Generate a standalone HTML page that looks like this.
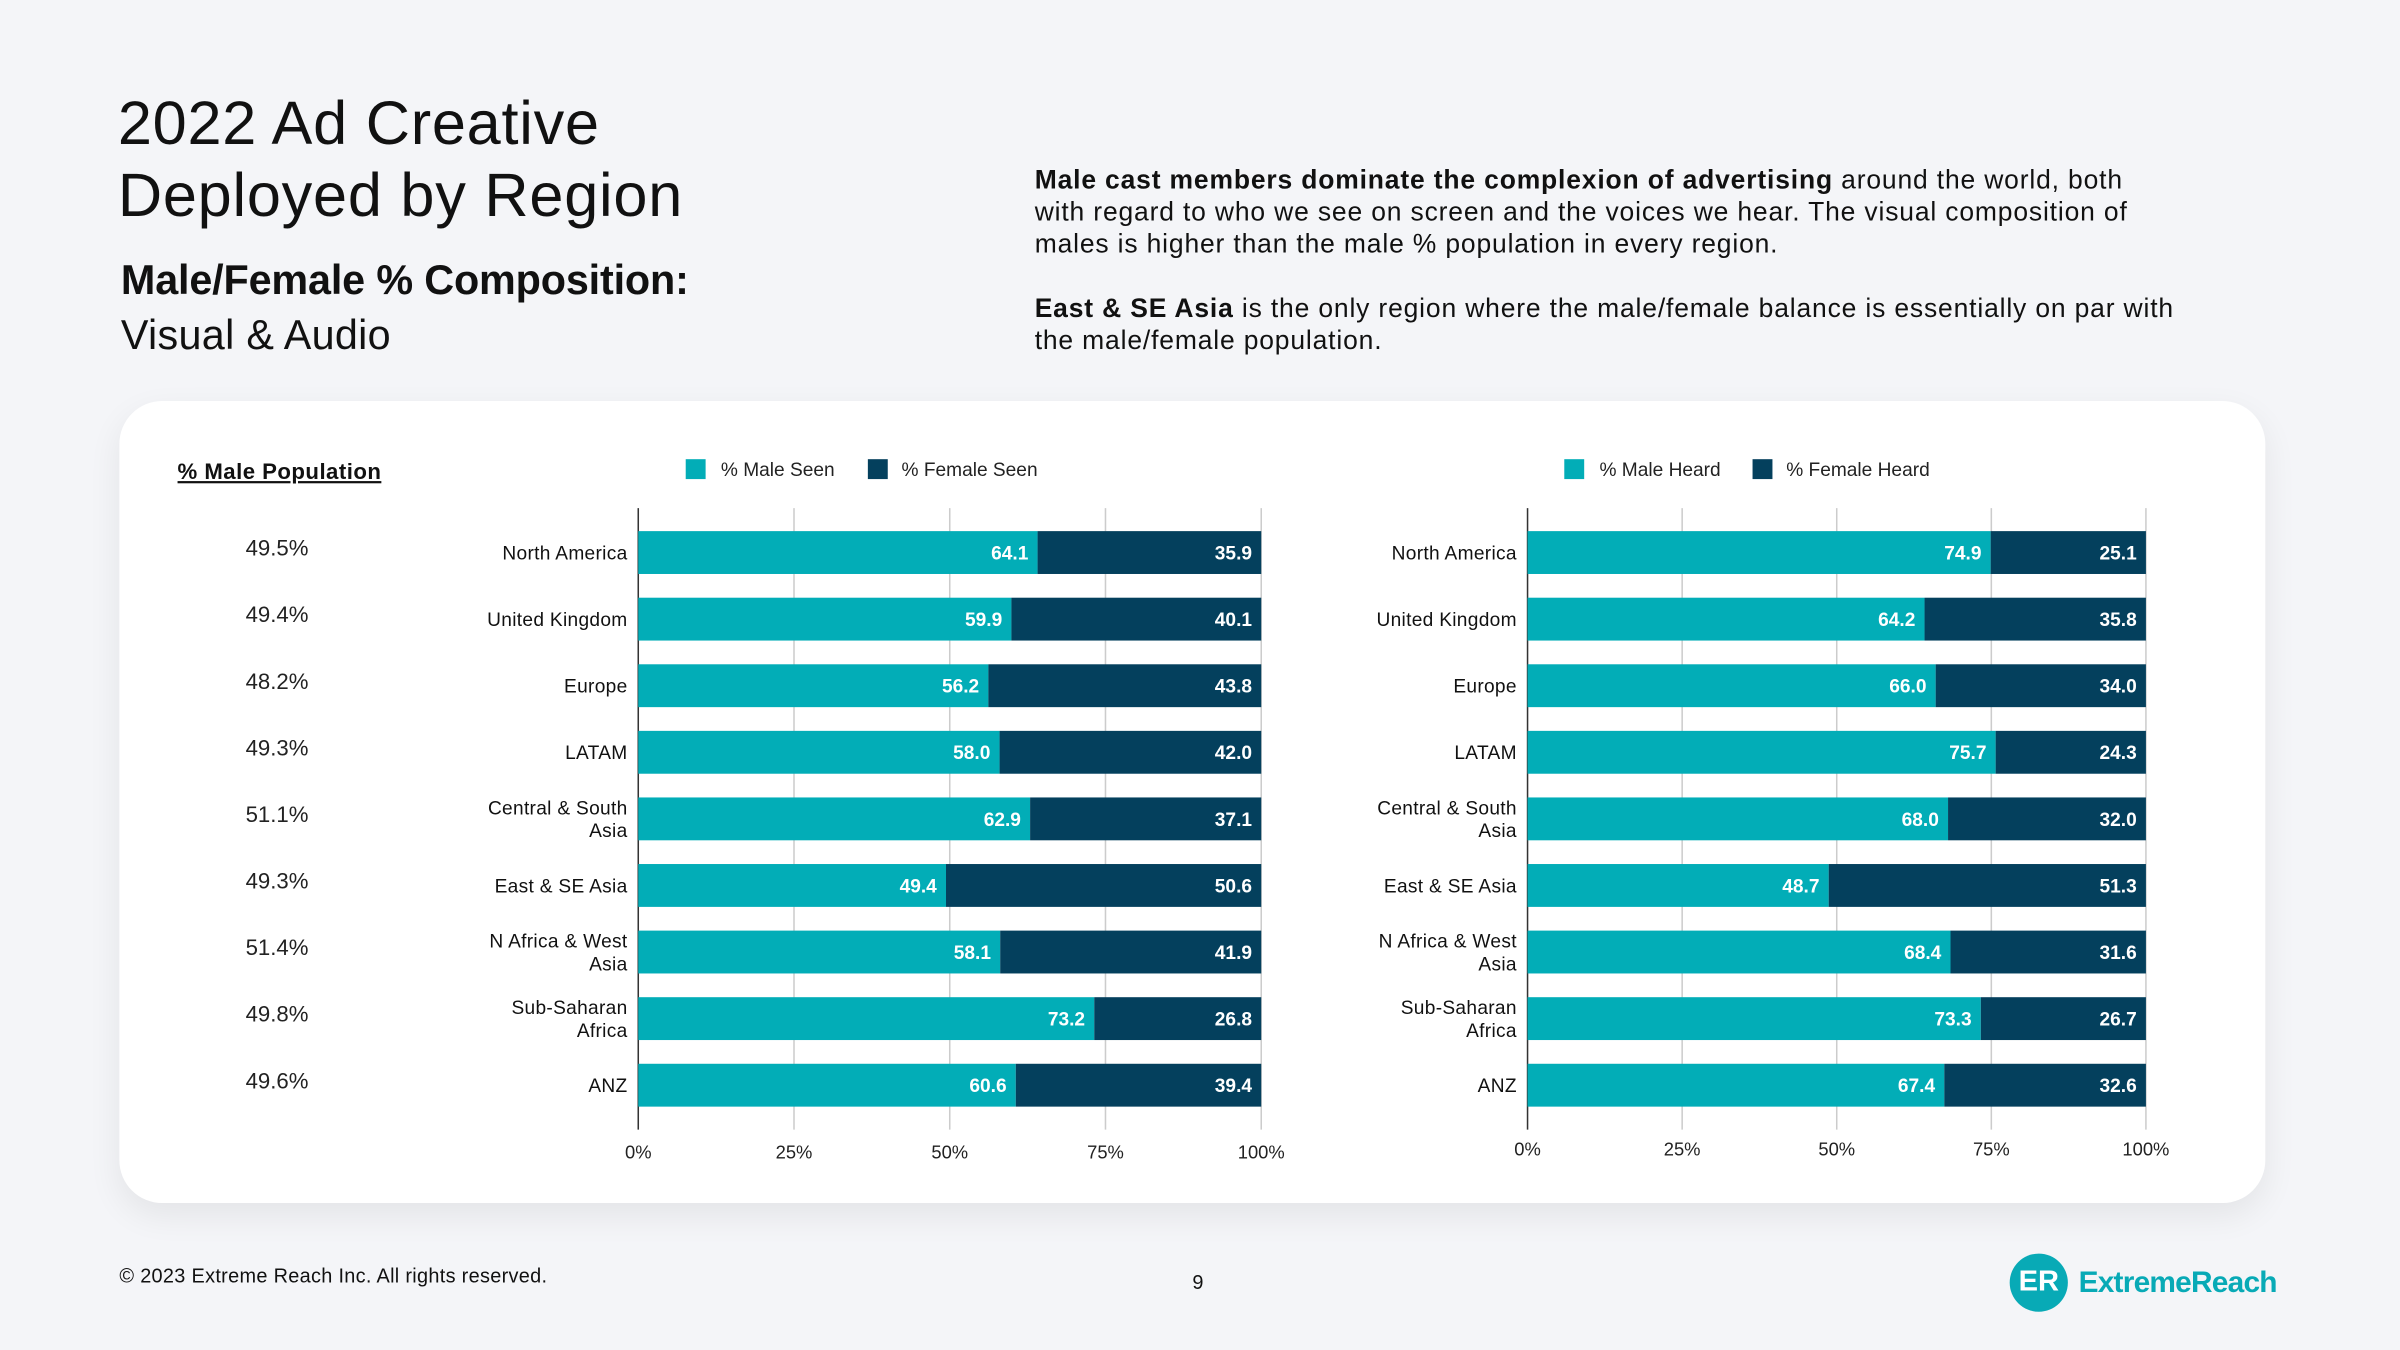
<!DOCTYPE html>
<html><head><meta charset="utf-8"><style>
html,body{margin:0;padding:0;width:2400px;height:1350px;overflow:hidden;background:#f4f5f8;}
#wrap{position:absolute;left:0;top:0;width:1568px;height:882px;transform:scale(1.530612);transform-origin:0 0;font-family:"Liberation Sans",sans-serif;color:#111;}
.abs{position:absolute;margin:0;}
#card{position:absolute;left:78px;top:262px;width:1402px;height:524px;background:#fff;border-radius:28px;box-shadow:0 8px 22px rgba(0,0,0,0.07);}
svg text{font-family:"Liberation Sans",sans-serif;}
</style></head><body>
<div id="wrap">
<h1 class="abs" style="left:77px;top:58px;font-size:40px;font-weight:400;line-height:47px;letter-spacing:0.5px;">2022 Ad Creative<br>Deployed by Region</h1>
<div class="abs" style="left:79px;top:168px;font-size:27px;font-weight:700;letter-spacing:-0.1px;">Male/Female % Composition:</div>
<div class="abs" style="left:79px;top:204px;font-size:27px;letter-spacing:0.2px;">Visual &amp; Audio</div>
<div class="abs" style="left:676px;top:107px;width:745px;font-size:17.3px;letter-spacing:0.55px;line-height:21px;color:#111;">
<p style="margin:0 0 21px 0;"><b>Male cast members dominate the complexion of advertising</b> around the world, both with regard to who we see on screen and the voices we hear. The visual composition of males is higher than the male % population in every region.</p>
<p style="margin:0;"><b>East &amp; SE Asia</b> is the only region where the male/female balance is essentially on par with the male/female population.</p>
</div>
<div id="card"></div>
<svg id="chart" class="abs" style="left:0;top:0" width="1568" height="882"></svg>
<div class="abs" style="left:78px;top:826px;font-size:13px;letter-spacing:0.2px;">© 2023 Extreme Reach Inc. All rights reserved.</div>
<div class="abs" style="left:779px;top:830px;font-size:13px;">9</div>
<div class="abs" style="left:1313px;top:819px;width:38px;height:38px;border-radius:50%;background:#08aab6;color:#fff;font-weight:700;font-size:19px;line-height:38px;text-align:center;">ER</div>
<div class="abs" style="left:1358px;top:827px;font-size:19.5px;font-weight:700;color:#08aab6;letter-spacing:-0.5px;">ExtremeReach</div>
</div>
<script>
const categories=["North America","United Kingdom","Europe","LATAM","Central & South|Asia","East & SE Asia","N Africa & West|Asia","Sub-Saharan|Africa","ANZ"];
const malePop=["49.5%","49.4%","48.2%","49.3%","51.1%","49.3%","51.4%","49.8%","49.6%"];
const maleSeen=[64.1,59.9,56.2,58.0,62.9,49.4,58.1,73.2,60.6];
const femaleSeen=[35.9,40.1,43.8,42.0,37.1,50.6,41.9,26.8,39.4];
const maleHeard=[74.9,64.2,66.0,75.7,68.0,48.7,68.4,73.3,67.4];
const femaleHeard=[25.1,35.8,34.0,24.3,32.0,51.3,31.6,26.7,32.6];
const ticks=[0,25,50,75,100];
const TEAL="#02adb7",NAVY="#04405d";
const svg=document.getElementById('chart');
const NS="http://www.w3.org/2000/svg";
function mk(tag,attrs,txt){const e=document.createElementNS(NS,tag);for(const k in attrs)e.setAttribute(k,attrs[k]);if(txt!==undefined)e.textContent=txt;svg.appendChild(e);return e;}
function yRow(i){return 361+i*43.5;}
const t=mk('text',{x:116,y:313,'font-size':14.5,'font-weight':700,fill:'#111','text-decoration':'underline','letter-spacing':0.3},'% Male Population');


malePop.forEach((v,i)=>{
  const e=mk('text',{x:181,y:yRow(i)+2,'font-size':14.5,fill:'#222','text-anchor':'middle'},v);
  
  
});
function drawChart(x0,x1,male,female,labX,legend,legX,tickY,nm){
  const sx=v=>x0+(x1-x0)*v/100;
  ticks.forEach(tk=>{
    const l=mk('line',{x1:sx(tk),x2:sx(tk),y1:332,y2:738,stroke:tk===0?'#333':'#ccc','stroke-width':1});
    
    
    const tt=mk('text',{x:sx(tk),y:tickY,'font-size':12,fill:'#222','text-anchor':'middle'},tk+'%');
    
    
  });
  categories.forEach((c,i)=>{
    const y=yRow(i),h=28;
    const r1=mk('rect',{x:sx(0),y:y-h/2,width:sx(male[i])-sx(0),height:h,fill:TEAL});
    
    
    const r2=mk('rect',{x:sx(male[i]),y:y-h/2,width:sx(male[i]+female[i])-sx(male[i]),height:h,fill:NAVY});
    
    
    const v1=mk('text',{x:sx(male[i])-6,y:y+4.5,'font-size':12.5,'font-weight':700,fill:'#fff','text-anchor':'end'},male[i].toFixed(1));
    
    
    const v2=mk('text',{x:sx(male[i]+female[i])-6,y:y+4.5,'font-size':12.5,'font-weight':700,fill:'#fff','text-anchor':'end'},female[i].toFixed(1));
    
    
    const parts=c.split('|');
    parts.forEach((p,j)=>{
      const yy=parts.length===1?y+4.5:y-3+j*15;
      const ct=mk('text',{x:labX,y:yy,'font-size':12.5,fill:'#111','text-anchor':'end','letter-spacing':0.2},p);
      
      
    });
  });
  const r=mk('rect',{x:legX[0],y:300,width:13,height:13,fill:TEAL});
  
  
  const lt=mk('text',{x:legX[0]+23,y:311,'font-size':12.5,fill:'#222'},legend[0]);
  
  
  const r2=mk('rect',{x:legX[1],y:300,width:13,height:13,fill:NAVY});
  
  
  const lt2=mk('text',{x:legX[1]+22,y:311,'font-size':12.5,fill:'#222'},legend[1]);
  
  
}
drawChart(417,824,maleSeen,femaleSeen,410,['% Male Seen','% Female Seen'],[448,567],757,'seen');
drawChart(998,1402,maleHeard,femaleHeard,991,['% Male Heard','% Female Heard'],[1022,1145],755,'heard');
</script>
</body></html>
